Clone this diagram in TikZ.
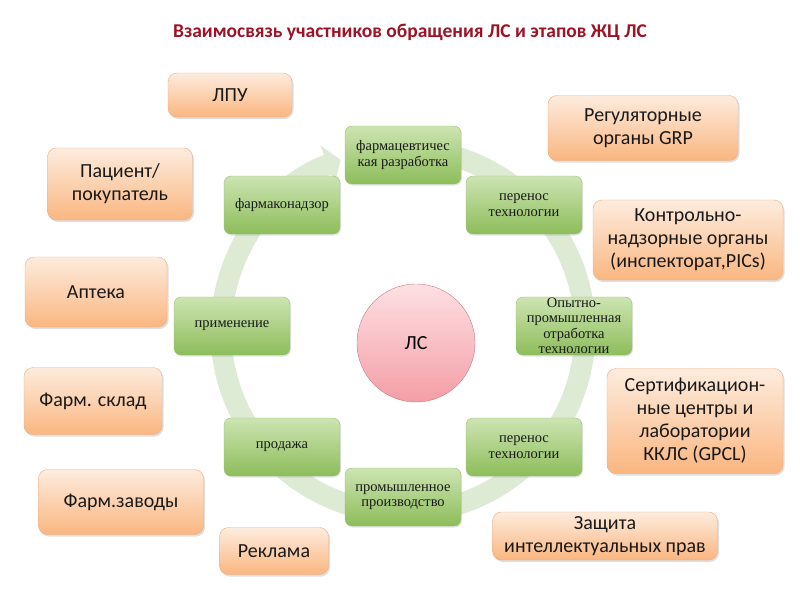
\documentclass[tikz,border=0pt]{standalone}
\usepackage{fontspec}
\setmainfont{Carlito}
\newfontfamily\stagefont{Liberation Serif}
\usetikzlibrary{positioning,shadows,arrows.meta}

\definecolor{ringgreen}{RGB}{221,234,212}
\definecolor{stagetop}{RGB}{205,228,178}
\definecolor{stagebot}{RGB}{141,189,90}
\definecolor{stageline}{RGB}{155,192,118}
\definecolor{parttop}{RGB}{253,236,222}
\definecolor{partbot}{RGB}{250,182,128}
\definecolor{partline}{RGB}{238,172,125}
\definecolor{lstop}{RGB}{253,224,227}
\definecolor{lsbot}{RGB}{244,158,166}
\definecolor{lsline}{RGB}{198,122,130}
\definecolor{titlered}{RGB}{158,18,38}

\tikzset{
  stage/.style={rectangle, rounded corners=7pt, draw=stageline, top color=stagetop,
    bottom color=stagebot, minimum width=116pt, minimum height=58pt, align=center,
    font=\stagefont\fontsize{14.5}{15.5}\selectfont, text=black!90,
    drop shadow={opacity=0.2, shadow xshift=1pt, shadow yshift=-1.5pt}},
  party/.style={rectangle, rounded corners=9pt, draw=partline, top color=parttop,
    bottom color=partbot, align=center, font=\fontsize{20}{23}\selectfont, text=black!90,
    drop shadow={opacity=0.25, shadow xshift=1.5pt, shadow yshift=-2pt}}
}

\begin{document}
\begin{tikzpicture}
  \fill[white] (0,0) rectangle (800pt,-600pt);
  \useasboundingbox (0,0) rectangle (800pt,-600pt);

  \node[font=\bfseries\fontsize{19.5}{22}\selectfont, text=titlered] (title) at (410pt,-32pt)
    {Взаимосвязь участников обращения ЛС и этапов ЖЦ ЛС};

  % cycle
  \coordinate (ring) at (403pt,-331pt);
  \coordinate (bc) at (403pt,-326pt);
  \draw[ringgreen, line width=21pt, -{Triangle[width=40pt,length=14pt]}]
    ([shift={(85:182pt)}]ring) arc[start angle=85, end angle=-250, radius=182pt];

  \node[circle, draw=lsline, top color=lstop, bottom color=lsbot, minimum size=118pt,
    font=\fontsize{20}{22}\selectfont, below right=17pt and 13pt of bc, anchor=center] (ls) {ЛС};

  \node[stage, above=171pt of bc, anchor=center] (razrab) {фармацевтичес\\кая разработка};
  \node[stage, above right=121pt and 121pt of bc, anchor=center] (perenos1) {перенос\\технологии};
  \node[stage, right=171pt of bc, anchor=center, inner ysep=0pt] (opyt)
    {Опытно-\\промышленная\\отработка\\технологии};
  \node[stage, below right=121pt and 121pt of bc, anchor=center] (perenos2) {перенос\\технологии};
  \node[stage, below=171pt of bc, anchor=center] (prom) {промышленное\\производство};
  \node[stage, below left=121pt and 121pt of bc, anchor=center] (prodazha) {продажа};
  \node[stage, left=171pt of bc, anchor=center] (primen) {применение};
  \node[stage, above left=121pt and 121pt of bc, anchor=center] (fnadzor) {фармаконадзор};

  % participants
  \node[party, minimum width=124pt, minimum height=44pt] (lpu) at (230pt,-95pt) {ЛПУ};
  \node[party, minimum width=145pt, minimum height=72pt] (pacient) at (120pt,-184pt) {Пациент/\\покупатель};
  \node[party, minimum width=142pt, minimum height=70pt] (apteka) at (96pt,-292pt) {Аптека};
  \node[party, minimum width=138pt, minimum height=67pt] (sklad) at (93pt,-401pt) {Фарм. склад};
  \node[party, minimum width=165pt, minimum height=65pt] (zavody) at (121pt,-502pt) {Фарм.заводы};
  \node[party, minimum width=109pt, minimum height=47pt] (reklama) at (274pt,-551pt) {Реклама};
  \node[party, minimum width=190pt, minimum height=65pt] (regul) at (643pt,-128pt) {Регуляторные\\органы GRP};
  \node[party, minimum width=190pt, minimum height=80pt] (kontrol) at (688pt,-240pt)
    {Контрольно-\\надзорные органы\\(инспекторат,PICs)};
  \node[party, minimum width=176pt, minimum height=105pt] (sertif) at (695pt,-421pt)
    {Сертификацион-\\ные центры и\\лаборатории\\ККЛС (GPCL)};
  \node[party, minimum width=225pt, minimum height=48pt, inner ysep=1pt] (zaschita) at (605pt,-536pt)
    {Защита\\интеллектуальных прав};

\end{tikzpicture}
\end{document}
